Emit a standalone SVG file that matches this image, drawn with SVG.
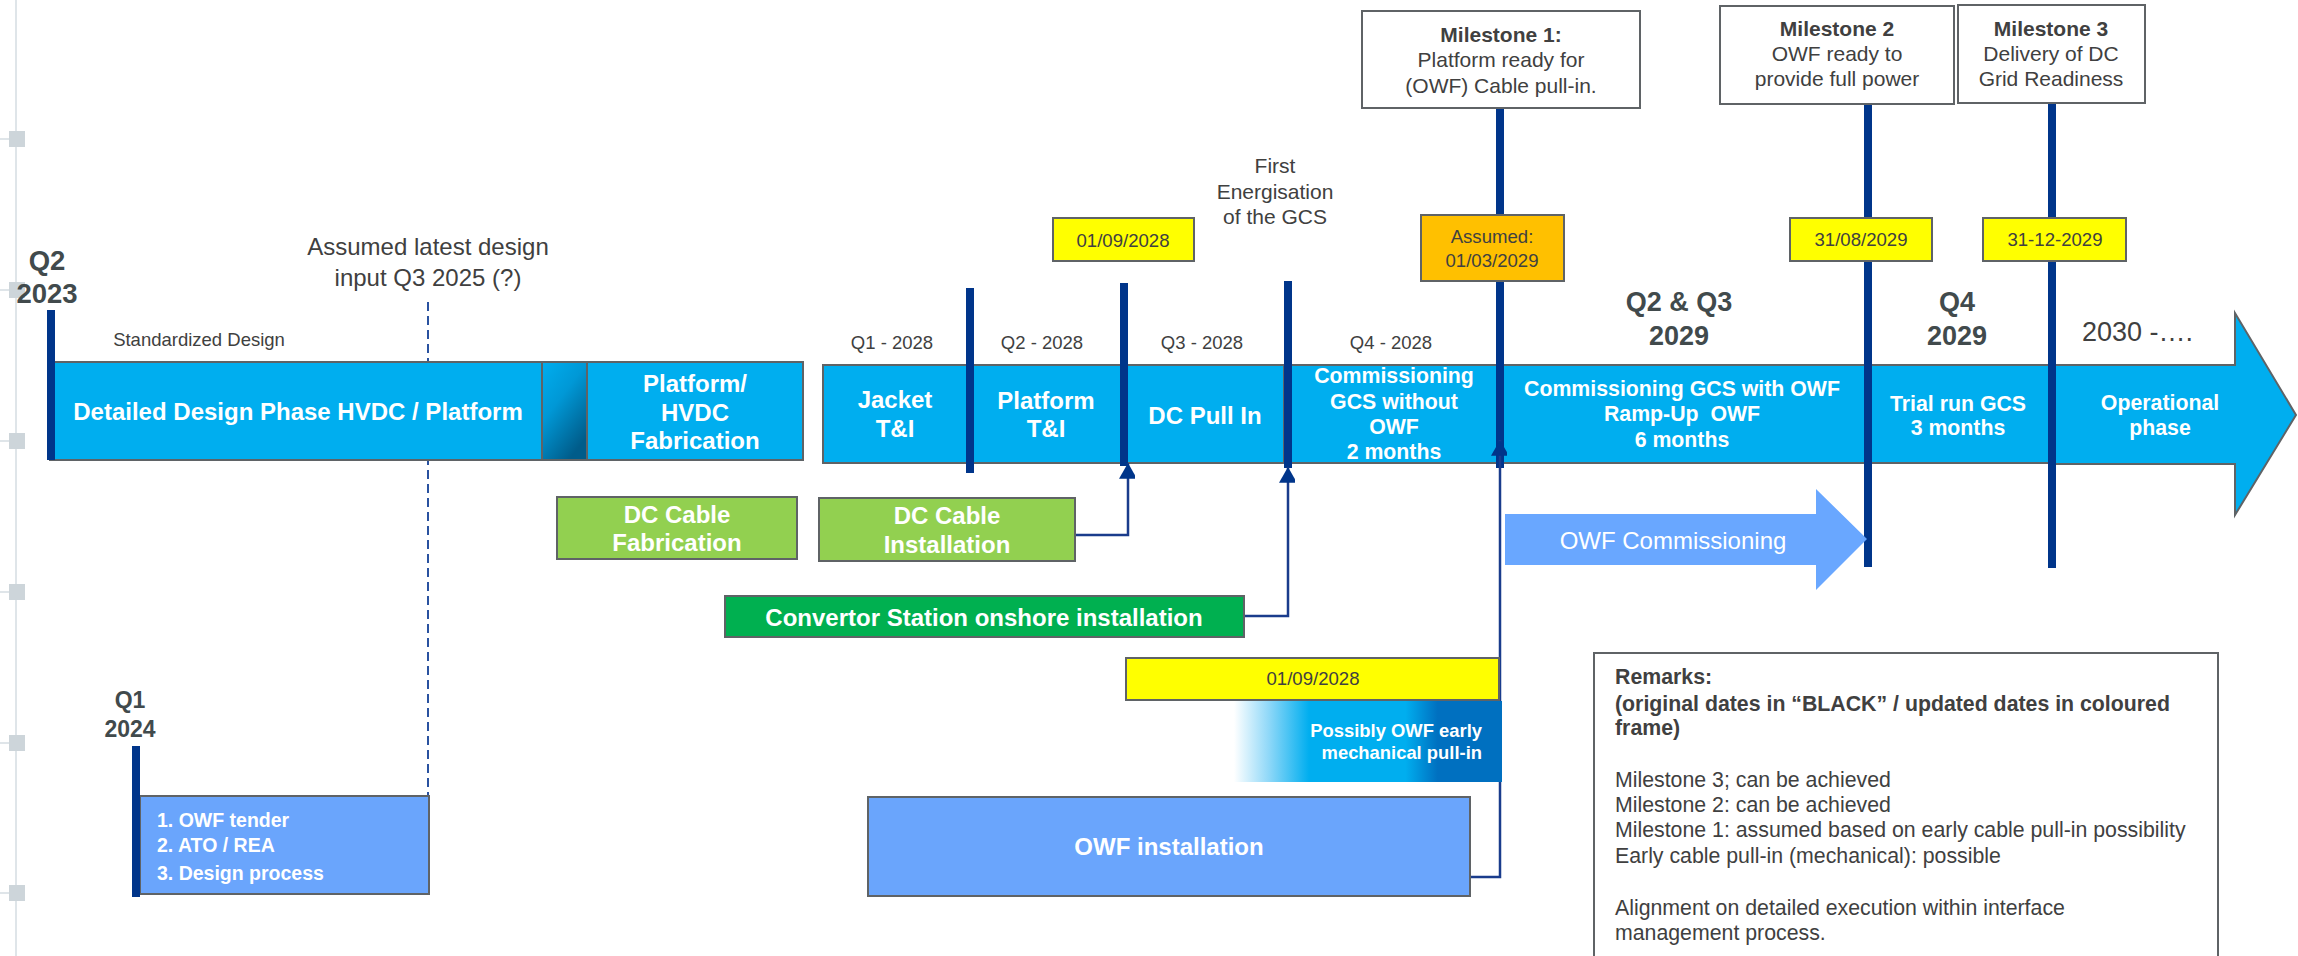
<svg xmlns="http://www.w3.org/2000/svg" width="2298" height="956" viewBox="0 0 2298 956">
<style>
text{font-family:"Liberation Sans",Arial,sans-serif}
.seg{fill:#00aeef;stroke:#5f6366;stroke-width:2}
.lb{fill:#6aa5fc;stroke:#5f6366;stroke-width:2}
.gr{fill:#92d050;stroke:#5f6366;stroke-width:2}
.dg{fill:#00b050;stroke:#5f6366;stroke-width:2}
.yl{fill:#ffff00;stroke:#5f6366;stroke-width:2}
.or{fill:#ffc000;stroke:#5f6366;stroke-width:2}
.wb{fill:#ffffff;stroke:#5f6366;stroke-width:2}
.wt{fill:#ffffff;font-weight:bold;font-size:24px;text-anchor:middle}
.wt2{fill:#ffffff;font-weight:bold;font-size:21.3px;text-anchor:middle}
.gt{fill:#404040;font-size:18.5px;text-anchor:middle}
.dt{fill:#404040;font-size:18.6px;text-anchor:middle}
.ms{fill:#404040;font-size:21px;text-anchor:middle}
.q{fill:#414a4c;font-weight:bold;text-anchor:middle}
.ml{stroke:#00358a;stroke-width:8;fill:none}
.cn{stroke:#1a3c8c;stroke-width:2.5;fill:none}
.rm{fill:#404040;font-size:21.3px}
.sq{fill:#cdd5da}
</style>
<defs>
<linearGradient id="g1" x1="0" y1="0" x2="0.6" y2="1">
<stop offset="0" stop-color="#00aeef"/>
<stop offset="0.45" stop-color="#0098d6"/>
<stop offset="1" stop-color="#005c8a"/>
</linearGradient>
<linearGradient id="g2" x1="0" y1="0" x2="1" y2="0">
<stop offset="0" stop-color="#ffffff"/>
<stop offset="0.13" stop-color="#8fd8f8"/>
<stop offset="0.28" stop-color="#00aeef"/>
<stop offset="0.64" stop-color="#00aeef"/>
<stop offset="0.76" stop-color="#0070c0"/>
<stop offset="1" stop-color="#0070c0"/>
</linearGradient>
<marker id="ah" markerUnits="userSpaceOnUse" markerWidth="18" markerHeight="16" viewBox="0 0 16 14" refX="14" refY="8" orient="auto">
<path d="M0,0 L14,8 L0,16 Z" fill="#00358a"/>
</marker>
</defs>
<rect width="2298" height="956" fill="#ffffff"/>

<g id="page-margin">
<line x1="16" y1="0" x2="16" y2="956" stroke="#d5dde2" stroke-width="1.5"/>
<g stroke="#d5dde2" stroke-width="1.5">
<line x1="0" y1="139" x2="9" y2="139"/><line x1="0" y1="290" x2="9" y2="290"/><line x1="0" y1="441" x2="9" y2="441"/>
<line x1="0" y1="592" x2="9" y2="592"/><line x1="0" y1="743" x2="9" y2="743"/><line x1="0" y1="893" x2="9" y2="893"/>
</g>
<rect class="sq" x="9" y="131" width="16" height="16"/>
<rect class="sq" x="9" y="282" width="16" height="16"/>
<rect class="sq" x="9" y="433" width="16" height="16"/>
<rect class="sq" x="9" y="584" width="16" height="16"/>
<rect class="sq" x="9" y="735" width="16" height="16"/>
<rect class="sq" x="9" y="885" width="16" height="16"/>
</g>

<g id="labels">
<text class="q" font-size="27.5" x="47" y="270">Q2</text>
<text class="q" font-size="27.5" x="47" y="303">2023</text>
<text class="gt" x="199" y="346">Standardized Design</text>
<text fill="#404040" font-size="24" text-anchor="middle" x="428" y="255">Assumed latest design</text>
<text fill="#404040" font-size="24" text-anchor="middle" x="428" y="286">input Q3 2025 (?)</text>
<text class="gt" x="892" y="349">Q1 - 2028</text>
<text class="gt" x="1042" y="349">Q2 - 2028</text>
<text class="gt" x="1202" y="349">Q3 - 2028</text>
<text class="gt" x="1391" y="349">Q4 - 2028</text>
<text class="ms" x="1275" y="173">First</text>
<text class="ms" x="1275" y="199">Energisation</text>
<text class="ms" x="1275" y="224">of the GCS</text>
<text class="q" font-size="27" x="1679" y="311">Q2 &amp; Q3</text>
<text class="q" font-size="27" x="1679" y="345">2029</text>
<text class="q" font-size="27" x="1957" y="311">Q4</text>
<text class="q" font-size="27" x="1957" y="345">2029</text>
<text fill="#404040" font-size="27" x="2082" y="341">2030 -….</text>
<text class="q" font-size="23" x="130" y="708">Q1</text>
<text class="q" font-size="23" x="130" y="737">2024</text>
</g>

<line id="design-input-line" x1="428" y1="302" x2="428" y2="810" stroke="#2a52a0" stroke-width="2" stroke-dasharray="9,5"/>

<g id="detailed-design">
<rect class="seg" x="50" y="362" width="492" height="98"/>
<text class="wt" x="298" y="420">Detailed Design Phase HVDC / Platform</text>
</g>
<g id="design-gradient">
<rect x="542" y="362" width="45" height="98" fill="url(#g1)" stroke="#5f6366" stroke-width="2"/>
</g>
<g id="platform-fabrication">
<rect class="seg" x="587" y="362" width="216" height="98"/>
<text class="wt" x="695" y="392">Platform/</text>
<text class="wt" x="695" y="421">HVDC</text>
<text class="wt" x="695" y="449">Fabrication</text>
</g>
<g id="jacket">
<rect class="seg" x="823" y="365" width="147" height="98"/>
<text class="wt" x="895" y="408">Jacket</text>
<text class="wt" x="895" y="437">T&amp;I</text>
</g>
<g id="platform-ti">
<rect class="seg" x="970" y="365" width="152" height="98"/>
<text class="wt" x="1046" y="409">Platform</text>
<text class="wt" x="1046" y="437">T&amp;I</text>
</g>
<g id="dc-pull-in">
<rect class="seg" x="1126" y="365" width="158" height="98"/>
<text class="wt" x="1205" y="424">DC Pull In</text>
</g>
<g id="commissioning-without">
<rect class="seg" x="1284" y="365" width="216" height="98"/>
<text class="wt2" x="1394" y="383">Commissioning</text>
<text class="wt2" x="1394" y="409">GCS without</text>
<text class="wt2" x="1394" y="434">OWF</text>
<text class="wt2" x="1394" y="459">2 months</text>
</g>
<g id="commissioning-with">
<rect class="seg" x="1500" y="365" width="366" height="98"/>
<text class="wt2" x="1682" y="396">Commissioning GCS with OWF</text>
<text class="wt2" x="1682" y="421" xml:space="preserve">Ramp-Up  OWF</text>
<text class="wt2" x="1682" y="447">6 months</text>
</g>
<g id="trial-run">
<rect class="seg" x="1870" y="365" width="180" height="98"/>
<text class="wt2" x="1958" y="411">Trial run GCS</text>
<text class="wt2" x="1958" y="435">3 months</text>
</g>
<g id="operational">
<path class="seg" stroke-width="1.5" d="M2054,365 H2235 V313 L2296,415 L2235,515 V464 H2054 Z"/>
<text class="wt2" x="2160" y="410">Operational</text>
<text class="wt2" x="2160" y="435">phase</text>
</g>

<g id="milestone-lines">
<line class="ml" x1="970" y1="288" x2="970" y2="473"/>
<line class="ml" x1="1124" y1="283" x2="1124" y2="466"/>
<line class="ml" x1="1288" y1="281" x2="1288" y2="468"/>
<line class="ml" x1="1500" y1="108" x2="1500" y2="216"/>
<line class="ml" x1="1500" y1="281" x2="1500" y2="468"/>
<line class="ml" x1="1868" y1="104" x2="1868" y2="218"/>
<line class="ml" x1="1868" y1="261" x2="1868" y2="567"/>
<line class="ml" x1="2052" y1="103" x2="2052" y2="218"/>
<line class="ml" x1="2052" y1="261" x2="2052" y2="568"/>
<line class="ml" x1="51" y1="310" x2="51" y2="460"/>
<line class="ml" x1="136" y1="746" x2="136" y2="897"/>
</g>

<g id="connectors">
<path class="cn" d="M1075,535 H1128 V463" marker-end="url(#ah)"/>
<path class="cn" d="M1244,616 H1288 V467" marker-end="url(#ah)"/>
<path class="cn" d="M1470,877 H1500 V440" marker-end="url(#ah)"/>
</g>

<g id="milestone-1">
<rect class="wb" x="1362" y="11" width="278" height="97"/>
<text class="ms" font-weight="bold" x="1501" y="42">Milestone 1:</text>
<text class="ms" x="1501" y="67">Platform ready for</text>
<text class="ms" x="1501" y="93">(OWF) Cable pull-in.</text>
</g>
<g id="milestone-2">
<rect class="wb" x="1720" y="6" width="234" height="98"/>
<text class="ms" font-weight="bold" x="1837" y="36">Milestone 2</text>
<text class="ms" x="1837" y="61">OWF ready to</text>
<text class="ms" x="1837" y="86">provide full power</text>
</g>
<g id="milestone-3">
<rect class="wb" x="1958" y="5" width="187" height="98"/>
<text class="ms" font-weight="bold" x="2051" y="36">Milestone 3</text>
<text class="ms" x="2051" y="61">Delivery of DC</text>
<text class="ms" x="2051" y="86">Grid Readiness</text>
</g>

<g id="date-dc-pull-in">
<rect class="yl" x="1053" y="218" width="141" height="43"/>
<text class="dt" x="1123" y="247">01/09/2028</text>
</g>
<g id="date-milestone-1">
<rect class="or" x="1421" y="215" width="143" height="66"/>
<text class="dt" x="1492" y="243">Assumed:</text>
<text class="dt" x="1492" y="267">01/03/2029</text>
</g>
<g id="date-milestone-2">
<rect class="yl" x="1790" y="218" width="142" height="43"/>
<text class="dt" x="1861" y="246">31/08/2029</text>
</g>
<g id="date-milestone-3">
<rect class="yl" x="1983" y="218" width="143" height="43"/>
<text class="dt" x="2055" y="246">31-12-2029</text>
</g>

<g id="dc-cable-fabrication">
<rect class="gr" x="557" y="497" width="240" height="62"/>
<text class="wt" x="677" y="523">DC Cable</text>
<text class="wt" x="677" y="551">Fabrication</text>
</g>
<g id="dc-cable-installation">
<rect class="gr" x="819" y="498" width="256" height="63"/>
<text class="wt" x="947" y="524">DC Cable</text>
<text class="wt" x="947" y="553">Installation</text>
</g>
<g id="convertor-station">
<rect class="dg" x="725" y="596" width="519" height="41"/>
<text class="wt" x="984" y="626">Convertor Station onshore installation</text>
</g>
<g id="owf-commissioning">
<path fill="#69a7ff" d="M1505,514 H1816 V489 L1867,539 L1816,590 V565 H1505 Z"/>
<text fill="#ffffff" font-size="24" text-anchor="middle" x="1673" y="549">OWF Commissioning</text>
</g>
<g id="date-early-pull-in">
<rect class="yl" x="1126" y="658" width="373" height="42"/>
<text class="dt" x="1313" y="685">01/09/2028</text>
</g>
<g id="early-pull-in">
<rect x="1234" y="701" width="268" height="81" fill="url(#g2)"/>
<text fill="#ffffff" font-weight="bold" font-size="18.4" text-anchor="end" x="1482" y="737">Possibly OWF early</text>
<text fill="#ffffff" font-weight="bold" font-size="18.4" text-anchor="end" x="1482" y="759">mechanical pull-in</text>
</g>
<g id="owf-installation">
<rect class="lb" x="868" y="797" width="602" height="99"/>
<text class="wt" x="1169" y="855">OWF installation</text>
</g>
<g id="owf-tender">
<rect class="lb" x="140" y="796" width="289" height="98"/>
<text fill="#ffffff" font-weight="bold" font-size="19.5" x="157" y="827">1. OWF tender</text>
<text fill="#ffffff" font-weight="bold" font-size="19.5" x="157" y="852">2. ATO / REA</text>
<text fill="#ffffff" font-weight="bold" font-size="19.5" x="157" y="880">3. Design process</text>
</g>
<line x1="136" y1="746" x2="136" y2="897" class="ml"/>

<g id="remarks">
<rect x="1594" y="653" width="624" height="320" fill="#ffffff" stroke="#5f6366" stroke-width="2"/>
<text class="rm" font-weight="bold" x="1615" y="684">Remarks:</text>
<text class="rm" font-weight="bold" x="1615" y="711">(original dates in “BLACK” / updated dates in coloured</text>
<text class="rm" font-weight="bold" x="1615" y="735">frame)</text>
<text class="rm" x="1615" y="787">Milestone 3; can be achieved</text>
<text class="rm" x="1615" y="812">Milestone 2: can be achieved</text>
<text class="rm" x="1615" y="837">Milestone 1: assumed based on early cable pull-in possibility</text>
<text class="rm" x="1615" y="863">Early cable pull-in (mechanical): possible</text>
<text class="rm" x="1615" y="915">Alignment on detailed execution within interface</text>
<text class="rm" x="1615" y="940">management process.</text>
</g>
</svg>
